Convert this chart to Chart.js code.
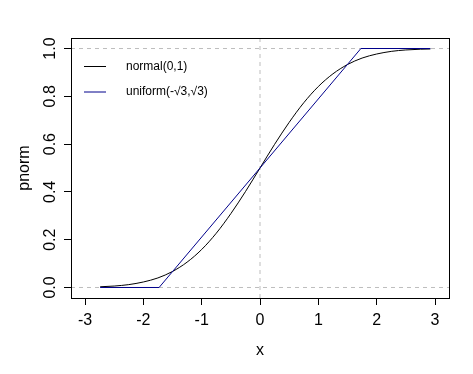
<!DOCTYPE html>
<html lang="en">
<head>
<meta charset="UTF-8"/>
<title>pnorm</title>
<script src="https://cdn.jsdelivr.net/npm/chart.js@4.4.0/dist/chart.umd.min.js"></script>
<style>
  html, body { margin:0; padding:0; background:#fff; }
  #wrap { width:473px; height:374px; }
</style>
</head>
<body>
<div id="wrap"><canvas id="Chart" width="473" height="374"></canvas></div>
<script>
// values
var normX = [-2.74,-2.5,-2.25,-2,-1.75,-1.5,-1.25,-1,-0.75,-0.5,-0.25,0,0.25,0.5,0.75,1,1.25,1.5,1.75,2,2.25,2.5,2.75,2.92];
var normY = [0.003,0.006,0.012,0.023,0.040,0.067,0.106,0.159,0.227,0.309,0.401,0.5,0.599,0.691,0.773,0.841,0.894,0.933,0.960,0.977,0.988,0.994,0.997,0.998];
var unifX = [-2.74,-1.73,1.73,2.92];
var unifY = [0,0,1,1];
var xTicks = [-3,-2,-1,0,1,2,3];
var yTicks = [0,0.2,0.4,0.6,0.8,1.0];
var hLines = [0,1];
var vLines = [0];
var xMin = -3.24, xMax = 3.24, yMin = -0.044, yMax = 1.044;

function pts(xs, ys){ return xs.map(function(x,i){ return {x:x, y:ys[i]}; }); }

var font = {family:'"Liberation Sans", Arial, sans-serif', size:16};
var refDatasets = [];
hLines.forEach(function(h){
  refDatasets.push({data:[{x:xMin,y:h},{x:xMax,y:h}], borderColor:'#bebebe', borderWidth:1, borderDash:[4,4], pointRadius:0, order:10});
});
vLines.forEach(function(v){
  refDatasets.push({data:[{x:v,y:yMin},{x:v,y:yMax}], borderColor:'#bebebe', borderWidth:1, borderDash:[4,4], pointRadius:0, order:10});
});

// box around plot + legend without frame, like bty="o" / bty="n"
var boxPlugin = {
  id:'box',
  afterDraw: function(chart){
    var c = chart.ctx, a = chart.chartArea;
    c.save();
    c.strokeStyle = '#000'; c.lineWidth = 1;
    c.strokeRect(Math.round(a.left)+0.5, Math.round(a.top)+0.5, Math.round(a.right-a.left), Math.round(a.bottom-a.top));
    var items = [['normal(0,1)','#000000'],['uniform(-\u221A3,\u221A3)','#00008B']];
    c.font = '12px "Liberation Sans", Arial, sans-serif';
    c.textBaseline = 'middle';
    items.forEach(function(it,i){
      var y = 66.5 + i*25.5;
      c.strokeStyle = it[1];
      c.beginPath(); c.moveTo(84, y); c.lineTo(106, y); c.stroke();
      c.fillStyle = '#000';
      c.fillText(it[0], 126, y);
    });
    c.restore();
  }
};

var ctx = document.getElementById('Chart').getContext('2d');
var chart = new Chart(ctx, {
  type:'line',
  data:{
    datasets: refDatasets.concat([
      {label:'normal(0,1)', data:pts(normX,normY), borderColor:'#000000', borderWidth:1, pointRadius:0, cubicInterpolationMode:'monotone', order:1},
      {label:'uniform', data:pts(unifX,unifY), borderColor:'#00008B', borderWidth:1, pointRadius:0, tension:0, order:0}
    ])
  },
  options:{
    responsive:false,
    animation:false,
    layout:{padding:{left:0, top:38, right:24, bottom:0}},
    plugins:{legend:{display:false}, tooltip:{enabled:false}},
    scales:{
      x:{
        type:'linear', min:xMin, max:xMax,
        afterBuildTicks: function(s){ s.ticks = xTicks.map(function(v){return {value:v};}); },
        afterFit: function(s){ s.height = 76; },
        grid:{drawOnChartArea:false, drawTicks:true, tickLength:7, tickColor:'#000'},
        border:{display:false},
        ticks:{color:'#000', font:font, padding:6, maxRotation:0, autoSkip:false},
        title:{display:true, text:'x', color:'#000', font:font, padding:{top:0, bottom:14}}
      },
      y:{
        type:'linear', min:yMin, max:yMax,
        afterBuildTicks: function(s){ s.ticks = yTicks.map(function(v){return {value:v};}); },
        afterFit: function(s){ s.width = 71; },
        grid:{drawOnChartArea:false, drawTicks:true, tickLength:7, tickColor:'#000'},
        border:{display:false},
        ticks:{color:'#000', font:font, padding:2, minRotation:90, maxRotation:90, autoSkip:false, crossAlign:'center',
               callback:function(v){ return v.toFixed(1); }},
        title:{display:true, text:'pnorm', color:'#000', font:font, padding:{top:15, bottom:0}}
      }
    }
  },
  plugins:[boxPlugin]
});
</script>
</body>
</html>
